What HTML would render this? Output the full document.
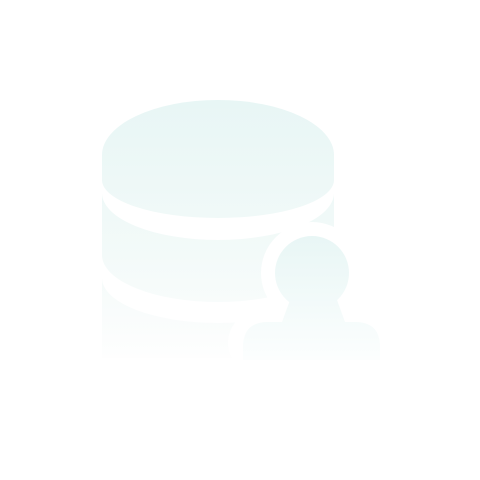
<!DOCTYPE html>
<html><head><style>html,body{margin:0;padding:0;background:#fff;width:480px;height:480px;overflow:hidden}</style></head>
<body>
<svg width="480" height="480" viewBox="0 0 480 480" xmlns="http://www.w3.org/2000/svg">
<defs>
<linearGradient id="g" gradientUnits="userSpaceOnUse" x1="0" y1="100" x2="0" y2="360">
<stop offset="0" stop-color="#e8f6f5"/>
<stop offset="0.6" stop-color="#f3faf9"/>
<stop offset="1" stop-color="#fefefe"/>
</linearGradient>
<linearGradient id="u" gradientUnits="userSpaceOnUse" x1="0" y1="235" x2="0" y2="360">
<stop offset="0" stop-color="#e8f6f5"/>
<stop offset="1" stop-color="#fcfefe"/>
</linearGradient>
</defs>
<rect width="480" height="480" fill="#fff"/>
<path d="M102,155 A116,55 0 0 1 334,155 L334,180 A116,38 0 0 1 102,180 Z" fill="url(#g)"/>
<path d="M102,193 A116,47 0 0 0 334,193 L334,255 A116,47 0 0 1 102,255 Z" fill="url(#g)"/>
<path d="M102,278 A116,45 0 0 0 334,278 L334,358 L102,358 Z" fill="url(#g)"/>
<circle cx="312" cy="273" r="51" fill="#fff"/>
<rect x="228" y="308" width="168" height="70" rx="38" fill="#fff"/>
<rect x="275" y="290" width="75" height="40" fill="#fff"/>
<circle cx="312" cy="273" r="37" fill="url(#u)"/>
<path d="M290,300 L337,300 L345,322 L355,322 Q380,322 380,347 L380,360 L243,360 L243,347 Q243,322 268,322 L282,322 Z" fill="url(#u)"/>
</svg>
</body></html>
